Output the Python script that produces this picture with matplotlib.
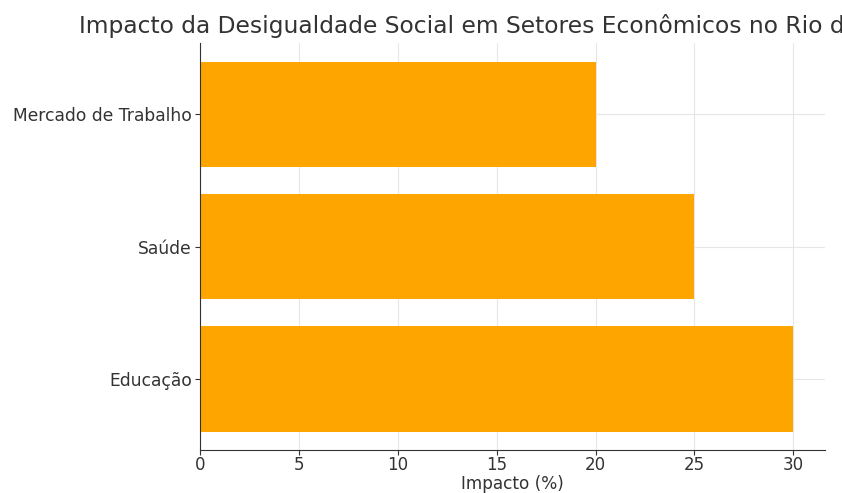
import matplotlib
matplotlib.use("Agg")
import matplotlib.pyplot as plt

setores = ["Educação", "Saúde", "Mercado de Trabalho"]
impacto = [30, 25, 20]
titulo = "Impacto da Desigualdade Social em Setores Econômicos no Rio de Janeiro"

plt.rcParams["font.family"] = ["DejaVu Sans"]
fig = plt.figure(figsize=(8.42, 4.93), dpi=100)
ax = fig.add_axes([200 / 842, 43 / 493, 625 / 842, 407 / 493])

ax.barh(setores, impacto, color="#FFA500", height=0.8, zorder=2)
ax.set_xlim(0, 31.6)
ax.grid(True, color="#e6e6e6", linewidth=0.8, zorder=0)
ax.set_axisbelow(True)
for s in ("top", "right"):
    ax.spines[s].set_visible(False)
for s in ("left", "bottom"):
    ax.spines[s].set_color("#333333")
ax.tick_params(axis="y", labelsize=12.3, colors="#333333", labelcolor="#333333", pad=2.5)
ax.tick_params(axis="x", labelsize=12, colors="#333333", labelcolor="#333333", pad=1, length=3.5)
ax.set_xlabel("Impacto (%)", fontsize=12.2, color="#333333", labelpad=0.5)
ax.set_title(titulo, fontsize=16.8, color="#333333", pad=7)

fig.savefig("out.png", dpi=100)
